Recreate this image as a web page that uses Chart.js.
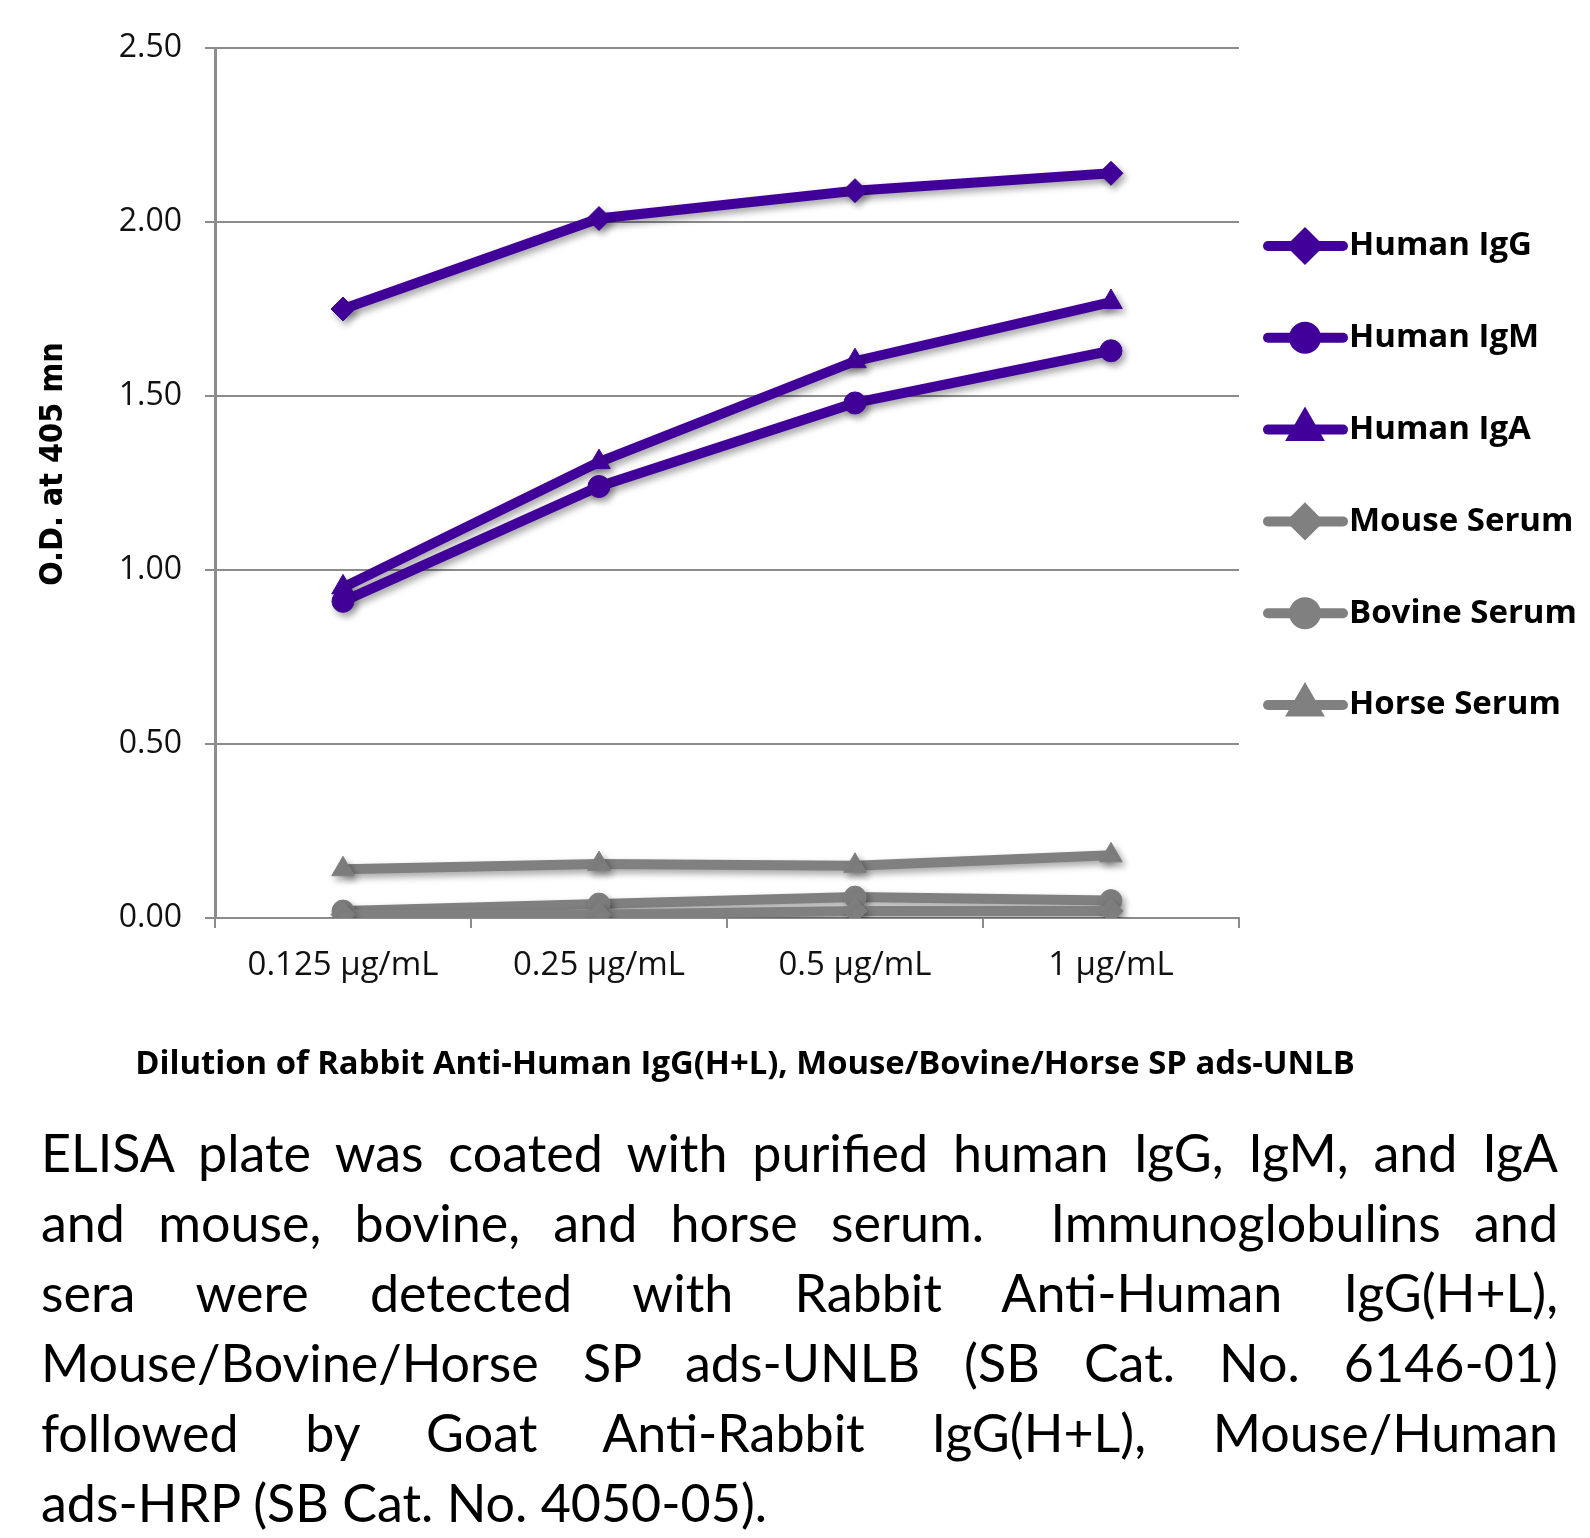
<!DOCTYPE html>
<html>
<head>
<meta charset="utf-8">
<script src="https://cdn.jsdelivr.net/npm/chart.js@4"></script>
<style>
  body { margin: 0; background: #fff; }
  #wrap { position: relative; width: 1590px; height: 1538px; }
  #caption {
    position: absolute; left: 41px; top: 1117px; width: 1517px;
    font-family: Lato, sans-serif; font-size: 52px; line-height: 70px; color: #000;
  }
  #caption div { text-align: justify; text-align-last: justify; white-space: nowrap; }
  #caption div.last { text-align-last: left; }
</style>
</head>
<body>
<div id="wrap">
  <canvas id="myChart" width="1590" height="1100"></canvas>
  <div id="caption">
    <div>ELISA plate was coated with purified human IgG, IgM, and IgA</div>
    <div>and mouse, bovine, and horse serum.&nbsp; Immunoglobulins and</div>
    <div>sera were detected with Rabbit Anti-Human IgG(H+L),</div>
    <div>Mouse/Bovine/Horse SP ads-UNLB (SB Cat. No. 6146-01)</div>
    <div>followed by Goat Anti-Rabbit IgG(H+L), Mouse/Human</div>
    <div class="last">ads-HRP (SB Cat. No. 4050-05).</div>
  </div>
</div>
<script>
const labels = ['0.125 µg/mL', '0.25 µg/mL', '0.5 µg/mL', '1 µg/mL'];
const humanIgG = [1.75, 2.01, 2.09, 2.14];
const humanIgM = [0.91, 1.24, 1.48, 1.63];
const humanIgA = [0.95, 1.31, 1.60, 1.77];
const mouseSerum = [0.01, 0.01, 0.02, 0.02];
const bovineSerum = [0.02, 0.04, 0.06, 0.05];
const horseSerum = [0.14, 0.155, 0.15, 0.18];

const purple = '#42009a';
const gray = '#808080';
const gridGray = '#8c8c8c';

function series(label, data, color, style, radius) {
  return {
    label: label, data: data,
    borderColor: color, backgroundColor: color,
    borderWidth: 10, tension: 0,
    pointStyle: style, pointRadius: radius, pointHoverRadius: radius,
    pointBackgroundColor: color, pointBorderColor: color, pointBorderWidth: 1
  };
}

// soft drop shadow under the lines, like the original
const shadow = {
  id: 'shadow',
  beforeDatasetsDraw(chart) {
    const ctx = chart.ctx;
    ctx.save();
    ctx.shadowColor = 'rgba(0,0,0,0.35)';
    ctx.shadowBlur = 7;
    ctx.shadowOffsetX = 3;
    ctx.shadowOffsetY = 4;
  },
  afterDatasetsDraw(chart) {
    chart.ctx.restore();
  }
};

// axis titles and the line+marker legend
const extras = {
  id: 'extras',
  afterDraw(chart) {
    const ctx = chart.ctx;
    ctx.save();
    ctx.fillStyle = '#000';
    ctx.textBaseline = 'middle';

    ctx.save();
    ctx.translate(54, 464);
    ctx.rotate(-Math.PI / 2);
    ctx.textAlign = 'center';
    ctx.font = "bold 32px 'DejaVu Sans Condensed'";
    ctx.fillText('O.D. at 405 mn', 0, 0);
    ctx.restore();

    ctx.textAlign = 'center';
    ctx.font = "bold 32.8px 'Open Sans'";
    ctx.fillText('Dilution of Rabbit Anti-Human IgG(H+L), Mouse/Bovine/Horse SP ads-UNLB', 745, 1065);

    chart.data.datasets.forEach(function(ds, i) {
      const y = 246 + i * 91.8;
      ctx.strokeStyle = ds.borderColor;
      ctx.lineWidth = 10;
      ctx.lineCap = 'round';
      ctx.beginPath();
      ctx.moveTo(1268, y);
      ctx.lineTo(1343, y);
      ctx.stroke();
      ctx.fillStyle = ds.backgroundColor;
      ctx.strokeStyle = ds.borderColor;
      Chart.helpers.drawPoint(ctx, {pointStyle: ds.pointStyle, radius: ds.pointRadius, rotation: 0, borderWidth: 1}, 1305, y);
      ctx.fillStyle = '#000';
      ctx.textAlign = 'left';
      ctx.font = "bold 33px 'Open Sans'";
      ctx.fillText(ds.label, 1349, y);
    });
    ctx.restore();
  }
};

const ctx = document.getElementById('myChart').getContext('2d');
const myChart = new Chart(ctx, {
  type: 'line',
  data: {
    labels: labels,
    datasets: [
      series('Human IgG', humanIgG, purple, 'rectRot', 12),
      series('Human IgM', humanIgM, purple, 'circle', 11),
      series('Human IgA', humanIgA, purple, 'triangle', 13),
      series('Mouse Serum', mouseSerum, gray, 'rectRot', 12),
      series('Bovine Serum', bovineSerum, gray, 'circle', 11),
      series('Horse Serum', horseSerum, gray, 'triangle', 13)
    ]
  },
  options: {
    responsive: false,
    animation: false,
    devicePixelRatio: 1,
    layout: { padding: { top: 48, right: 351, left: 0, bottom: 0 } },
    plugins: { legend: { display: false }, tooltip: { enabled: false } },
    scales: {
      x: {
        offset: true,
        afterFit: function(scale) { scale.height = 182; },
        grid: { offset: true, drawOnChartArea: false, color: gridGray, lineWidth: 2, tickLength: 10 },
        border: { display: true, color: gridGray, width: 2 },
        ticks: { color: '#111', padding: 18, font: { family: 'Open Sans', size: 33 } }
      },
      y: {
        min: 0, max: 2.5,
        afterFit: function(scale) { scale.width = 215; },
        grid: { color: gridGray, lineWidth: 2, tickLength: 10 },
        border: { display: true, color: gridGray, width: 3 },
        ticks: {
          stepSize: 0.5, color: '#111', padding: 23,
          font: { family: 'Open Sans', size: 32 },
          callback: function(v) { return v.toFixed(2); }
        }
      }
    }
  },
  plugins: [shadow, extras]
});
</script>
</body>
</html>
